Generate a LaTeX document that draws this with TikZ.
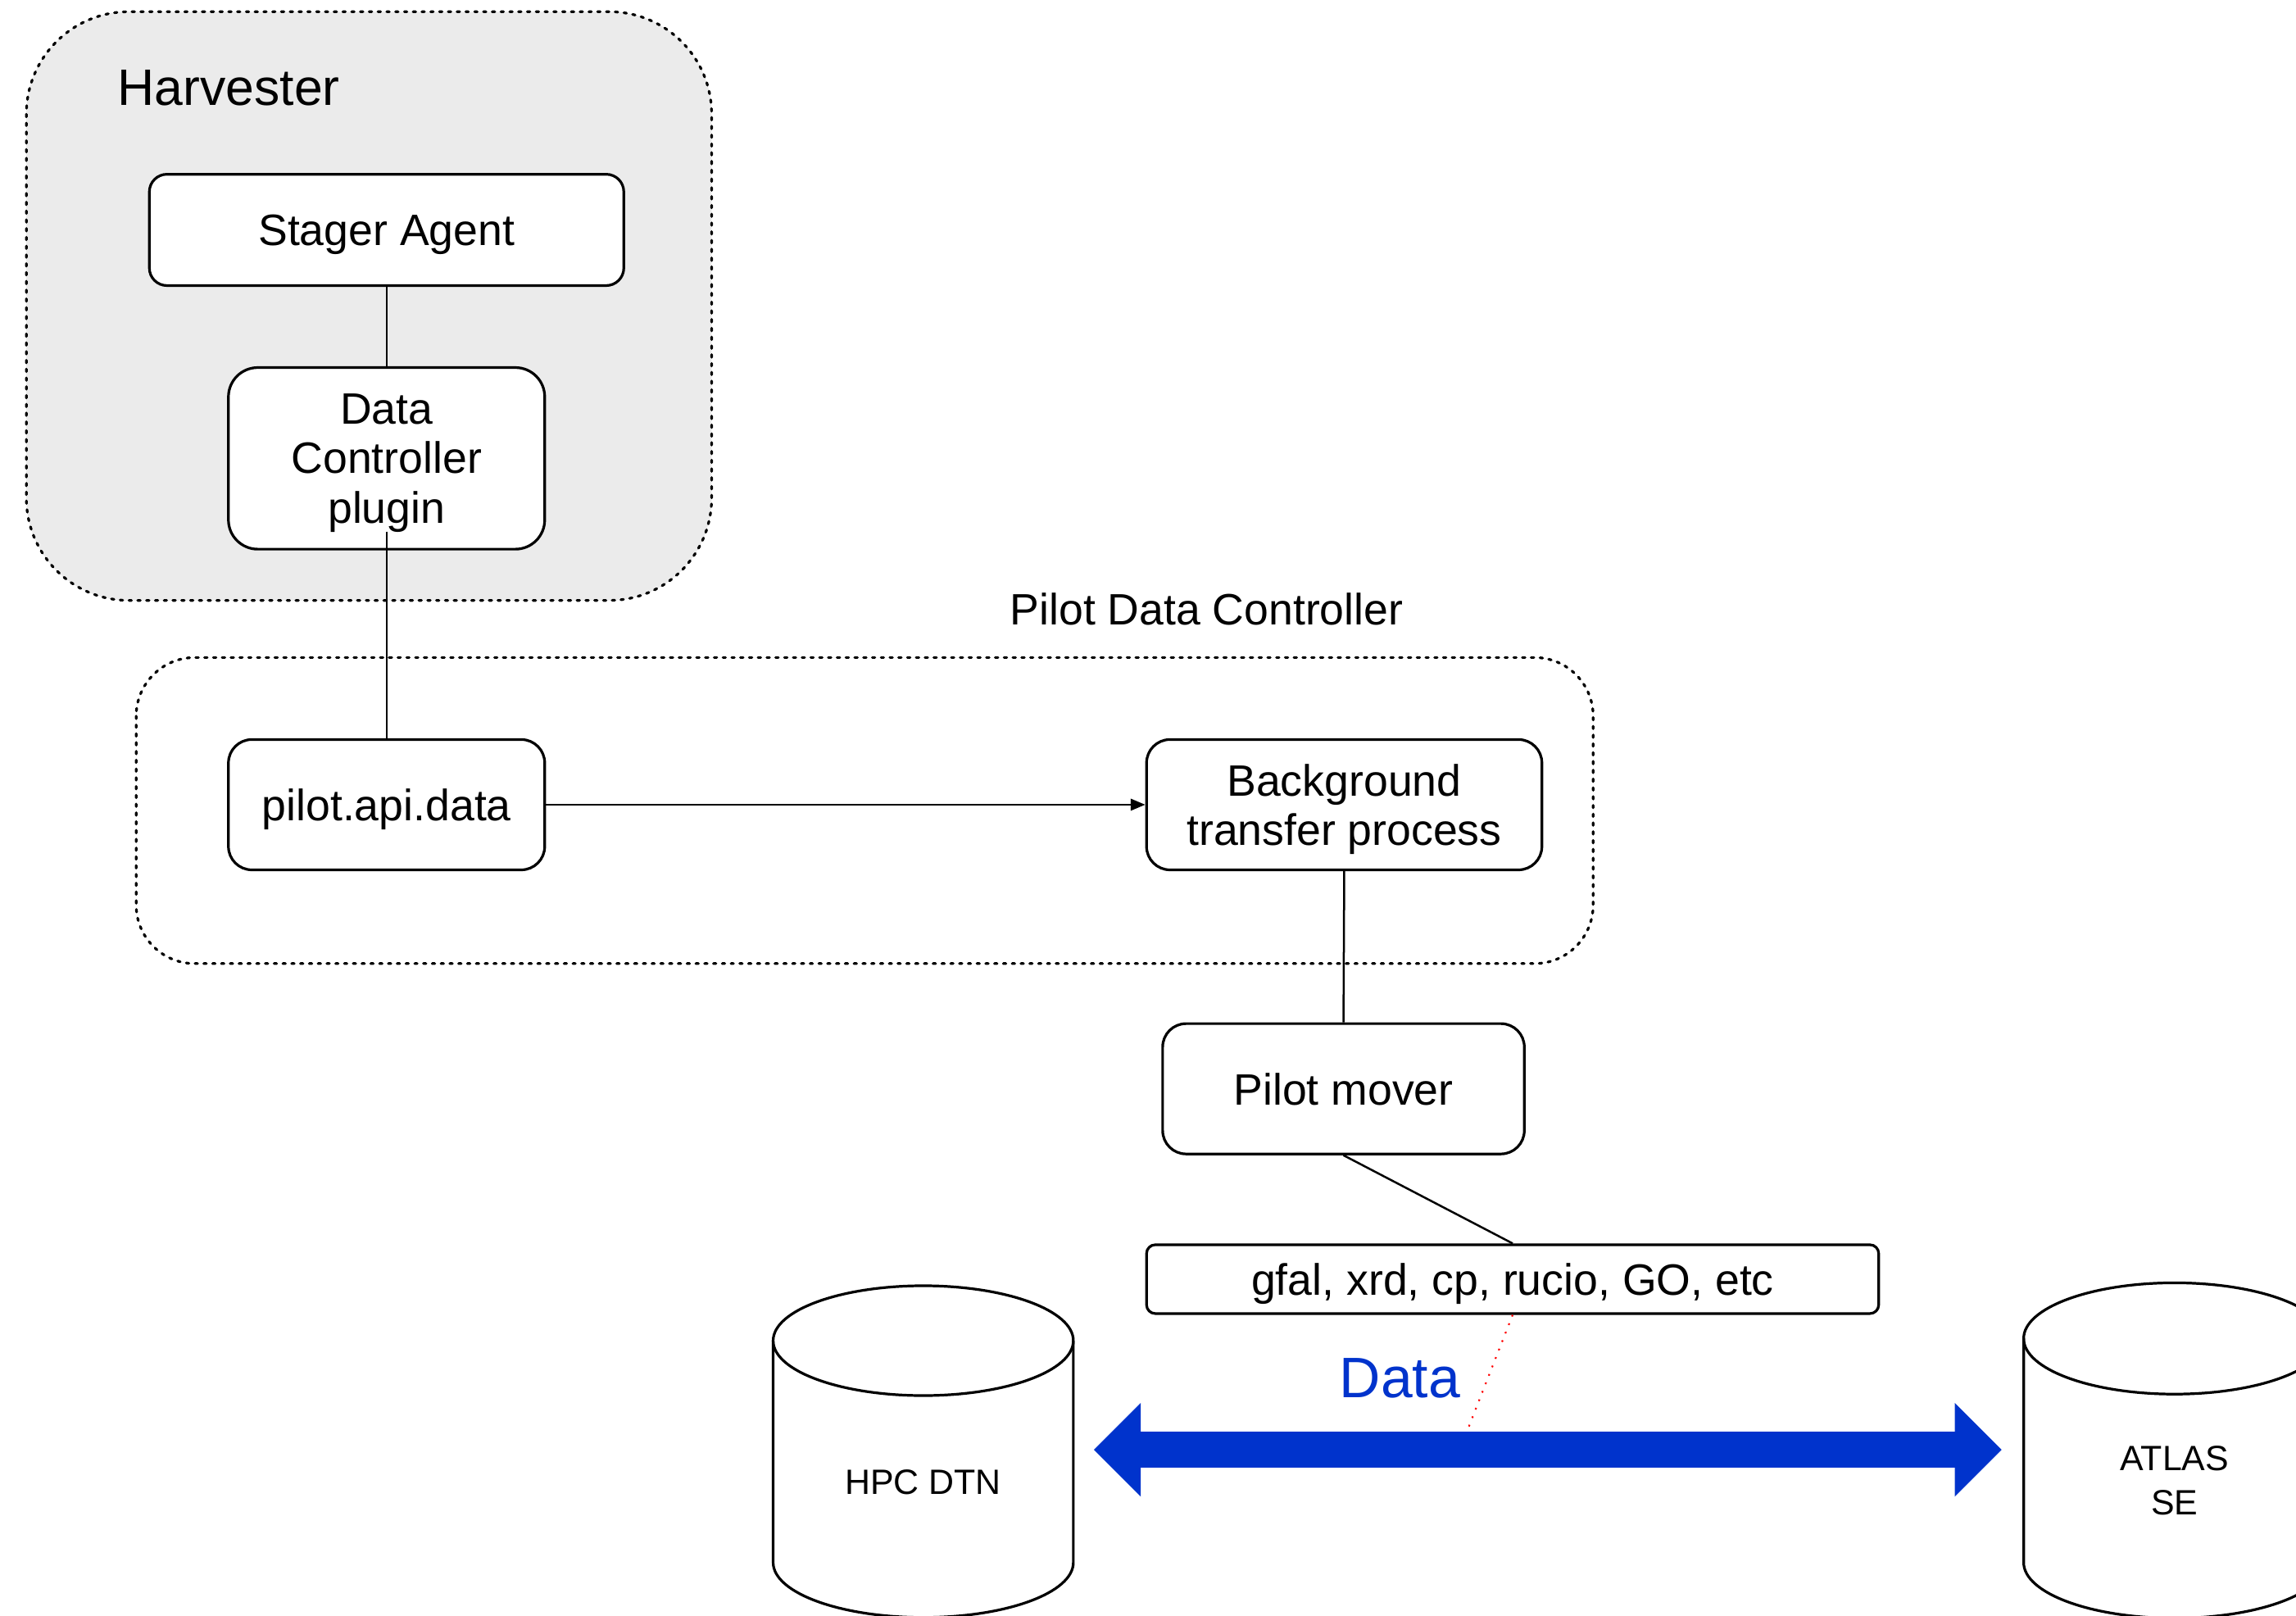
\documentclass[tikz,border=0pt]{standalone}
\usepackage{fontspec}
\setmainfont{Liberation Sans}
\usetikzlibrary{arrows.meta}
\definecolor{harvgray}{RGB}{235,235,235}
\definecolor{datablue}{RGB}{0,51,204}
\begin{document}
\begin{tikzpicture}[x=0.5pt,y=-0.5pt,
  box/.style={draw=black, line width=0.9pt, fill=white, rounded corners=6pt, align=center, font=\fontsize{15}{17}\selectfont, inner sep=2pt, text depth=0pt},
  conn/.style={draw=black, line width=0.7pt},
  grp/.style={line width=0.9pt, dash pattern=on 0.9pt off 2.1pt, line cap=round},
  cyl/.style={draw=black, line width=0.9pt},
  cyltext/.style={font=\fontsize{12}{15}\selectfont, align=center}
]
\useasboundingbox (0,0) rectangle (1568,1103);
\clip (0,0) rectangle (1568,1103);
% groups
\draw[grp, fill=harvgray, rounded corners=35pt] (18,8) rectangle (486,410);
\node[anchor=west, font=\fontsize{17.5}{20}\selectfont, inner sep=0pt] (harvlbl) at (80,60) {Harvester};
\draw[grp, rounded corners=20pt] (93,449) rectangle (1088,658);
\node[font=\fontsize{15}{17}\selectfont] (pdclbl) at (824,416) {Pilot Data Controller};
% boxes
\node[box, minimum width=162pt, minimum height=38pt] (stager) at (264,157) {Stager Agent};
\node[box, rounded corners=10pt, minimum width=108pt, minimum height=62pt] (dc) at (264,313) {Data\\Controller\\plugin};
\node[box, rounded corners=8pt, minimum width=108pt, minimum height=44.5pt] (api) at (264,549.5) {pilot.api.data};
\node[box, rounded corners=8pt, minimum width=135pt, minimum height=44.5pt] (bg) at (918,549.5) {Background\\transfer process};
\node[box, rounded corners=8pt, minimum width=123.5pt, minimum height=44.5pt] (mover) at (917.5,743.5) {Pilot mover};
\node[box, rounded corners=3pt, minimum width=250pt, minimum height=23.5pt] (gfal) at (1033,873.5) {gfal, xrd, cp, rucio, GO, etc};
% connectors
\draw[conn] (stager.south) -- (dc.north);
\draw[conn] ([yshift=6.5pt]dc.south) -- (api.north);
\draw[conn, -{Triangle[length=5pt,width=4pt]}] (api.east) -- (bg.west);
\draw[conn] (bg.south) -- (mover.north);
\draw[conn] (mover.south) -- (gfal.north);
% cylinders
\draw[cyl] (630.5,915.5) ellipse[x radius=102.5, y radius=37.5];
\draw[cyl] (528,915.5) -- (528,1067) arc[start angle=180, end angle=0, x radius=102.5, y radius=37.5] -- (733,915.5);
\node[cyltext] (hpc) at (630.5,1012) {HPC DTN};
\draw[cyl] (1485,914) ellipse[x radius=103, y radius=38];
\draw[cyl] (1382,914) -- (1382,1067) arc[start angle=180, end angle=0, x radius=103, y radius=38] -- (1588,914);
\node[cyltext] (atlas) at (1485,1011) {ATLAS\\SE};
% data arrow
\coordinate (arrL) at (747,990);
\coordinate (arrR) at (1367,990);
\coordinate (dtop) at (1002,977);
\draw[red, line width=0.6pt, dash pattern=on 0.6pt off 2.5pt] (gfal.south) -- (dtop);
\draw[datablue, line width=12.5pt, {Triangle[length=16pt,width=31pt]}-{Triangle[length=16pt,width=31pt]}] (arrL) -- (arrR);
\node[text=datablue, font=\fontsize{19.5}{22}\selectfont] (datalbl) at (956,941) {Data};
\end{tikzpicture}
\end{document}
